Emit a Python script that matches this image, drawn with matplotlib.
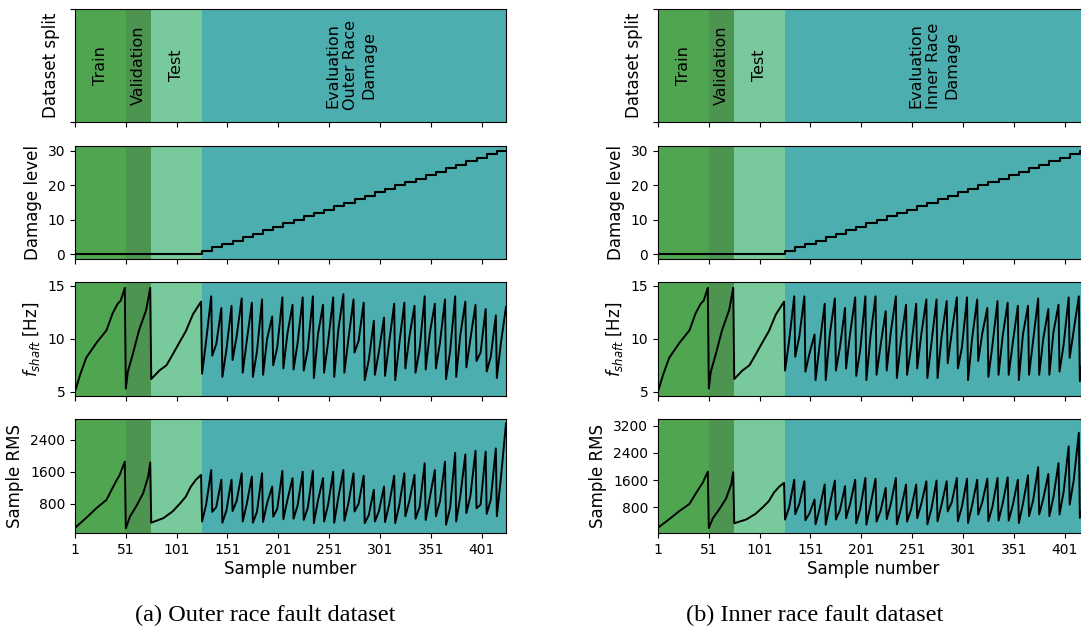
import numpy as np
import matplotlib
matplotlib.use('Agg')
import matplotlib.pyplot as plt

# region boundaries (sample numbers)
split_edges = [1, 51, 76, 126, 425]
split_names = ['Train', 'Validation', 'Test']
split_colors = ['#50a650', '#4e9451', '#78c99b', '#4caeae']
xticks = [1, 51, 101, 151, 201, 251, 301, 351, 401]

# shared train / validation / test part (samples 1..125)
pre_x = [1, 6, 12, 22, 32, 38, 43, 46, 50,
         51, 53, 58, 64, 71, 75,
         76, 84, 91, 97, 104, 110, 117, 125]
pre_fshaft = [5.0, 6.6, 8.2, 9.6, 10.8, 12.4, 13.3, 13.6, 14.8,
              5.3, 6.9, 8.6, 10.8, 12.7, 14.8,
              6.2, 7.0, 7.5, 8.5, 9.7, 10.7, 12.3, 13.5]
pre_rms_x = [1, 12, 22, 32, 37, 42, 45, 50,
             51, 55, 61, 68, 73, 75,
             76, 88, 97, 104, 110, 115, 120, 125]
pre_rms = [200, 450, 690, 900, 1150, 1390, 1520, 1850,
           190, 480, 730, 1060, 1480, 1830,
           330, 445, 610, 800, 980, 1230, 1400, 1520]

# evaluation: one speed sweep per damage level (10 samples each)
damage_levels = list(range(1, 31))

# outer race dataset, per sweep: start, middle, end values
outer_f_lo = [6.7, 8.4, 6.4, 8.0, 6.8, 6.4, 6.6, 7.5, 7.2, 7.1, 7.0, 6.3, 6.8, 6.4, 6.8,
              8.7, 6.1, 6.6, 6.5, 6.1, 7.2, 6.8, 7.1, 7.2, 6.2, 6.4, 7.3, 7.9, 6.9, 6.3]
outer_f_mid = [9.8, 9.5, 9.0, 10.2, 9.8, 8.8, 10.0, 9.2, 10.5, 9.6, 9.0, 10.4, 9.7, 10.8, 10.0,
               9.8, 8.0, 8.8, 9.6, 9.5, 10.2, 9.0, 10.5, 9.6, 8.8, 10.3, 10.0, 8.7, 8.3, 9.6]
outer_f_hi = [14.0, 12.9, 13.1, 13.8, 13.4, 13.7, 12.1, 13.9, 13.2, 13.9, 14.0, 13.2, 13.9, 14.2, 13.7,
              13.4, 11.7, 12.0, 13.3, 13.4, 13.1, 14.0, 13.3, 13.7, 14.0, 13.5, 13.2, 12.8, 12.2, 13.0]
outer_rms_lo = [360, 600, 330, 620, 360, 330, 350, 480, 420, 430, 400, 320, 360, 330, 380,
                610, 320, 360, 345, 320, 490, 430, 400, 490, 280, 360, 570, 690, 550, 490]
outer_rms_mid = [780, 720, 640, 870, 800, 600, 820, 680, 900, 760, 700, 880, 780, 950, 820,
                 800, 520, 620, 780, 760, 880, 720, 950, 860, 700, 980, 1000, 780, 900, 1450]
outer_rms_hi = [1640, 1400, 1400, 1560, 1480, 1560, 1230, 1620, 1440, 1600, 1620, 1440, 1600, 1640, 1560,
                1500, 1150, 1230, 1500, 1560, 1520, 1810, 1640, 1850, 2070, 2030, 2120, 2100, 2180, 2800]

# inner race dataset
inner_f_lo = [7.0, 8.3, 6.9, 6.1, 6.1, 7.0, 7.2, 6.5, 6.1, 6.6, 7.0, 6.3, 6.6, 7.2, 6.3,
              6.3, 7.7, 7.2, 6.1, 7.9, 6.4, 6.6, 6.6, 6.1, 6.6, 6.6, 6.6, 6.9, 8.2, 6.0]
inner_f_mid = [9.8, 10.2, 8.6, 9.4, 10.4, 9.2, 10.5, 9.0, 10.2, 9.4, 10.6, 9.8, 9.2, 10.4, 9.6,
               10.2, 10.6, 9.2, 10.0, 10.5, 9.4, 10.2, 9.6, 10.4, 9.8, 10.0, 10.6, 9.4, 10.8, 9.0]
inner_f_hi = [14.0, 14.0, 10.4, 13.3, 13.8, 12.9, 13.9, 14.0, 14.0, 12.6, 14.0, 13.2, 13.3, 13.7, 13.7,
              13.55, 13.9, 13.9, 13.7, 12.9, 13.55, 13.4, 13.1, 13.1, 13.8, 12.8, 13.2, 13.9, 14.0, 12.5]
inner_rms_lo = [440, 600, 420, 300, 290, 440, 480, 330, 290, 380, 450, 300, 380, 480, 300,
                390, 680, 390, 340, 590, 390, 410, 410, 340, 540, 590, 540, 590, 880, 490]
inner_rms_mid = [800, 900, 620, 760, 880, 720, 900, 760, 860, 700, 900, 760, 740, 900, 760,
                 880, 950, 820, 860, 950, 820, 900, 860, 900, 1000, 1050, 1100, 1250, 1600, 900]
inner_rms_hi = [1610, 1565, 1030, 1470, 1585, 1420, 1610, 1660, 1640, 1370, 1660, 1470, 1470, 1565, 1585,
                1565, 1660, 1640, 1610, 1640, 1660, 1680, 1610, 1740, 1980, 1780, 2100, 2590, 2990, 2200]

datasets = [
    ('Outer', outer_f_lo, outer_f_mid, outer_f_hi, outer_rms_lo, outer_rms_mid, outer_rms_hi,
     (74, 2912), [800, 1600, 2400], '(a) Outer race fault dataset'),
    ('Inner', inner_f_lo, inner_f_mid, inner_f_hi, inner_rms_lo, inner_rms_mid, inner_rms_hi,
     (45, 3396), [800, 1600, 2400, 3200], '(b) Inner race fault dataset'),
]


def sweep_line(x0, y0, lo, mid, hi):
    # join the pre-evaluation part with the per-sweep vertices
    xs = list(x0)
    ys = list(y0)
    for k in range(len(lo)):
        t0 = 126 + 10 * k
        xs += [t0, t0 + 4, t0 + 9]
        ys += [lo[k], mid[k], hi[k]]
    return xs, ys


def shade(ax):
    for i in range(4):
        ax.axvspan(split_edges[i], split_edges[i + 1], color=split_colors[i], lw=0)


fig = plt.figure(figsize=(10.81, 6.31), dpi=100)
col_left = [75 / 1081, 658 / 1081]
width = 431 / 1081
rows_px = [(9, 122), (146, 259), (282, 396), (419, 533)]
cap_x = [265, 815]

for c, (name, f_lo, f_mid, f_hi, r_lo, r_mid, r_hi, rms_lim, rms_ticks, caption) in enumerate(datasets):
    axes = []
    for top, bot in rows_px:
        ax = fig.add_axes([col_left[c], 1 - bot / 631, width, (bot - top) / 631])
        axes.append(ax)

    for ax in axes:
        shade(ax)
        ax.set_xlim(1, 425)
        ax.set_xticks(xticks)
        ax.tick_params(labelsize=10)
    for ax in axes[:3]:
        ax.set_xticklabels([])

    # dataset split
    ax = axes[0]
    ax.set_ylim(0, 1)
    ax.set_yticks([0, 1])
    ax.set_yticklabels([])
    ax.set_ylabel('Dataset split', fontsize=12)
    centers = [26, 63.5, 101]
    for xc, lab in zip(centers, split_names):
        ax.text(xc, 0.5, lab, rotation=90, ha='center', va='center', fontsize=11.5)
    ax.text(272, 0.5, 'Evaluation\n%s Race\nDamage' % name, rotation=90, ha='center',
            va='center', multialignment='center', fontsize=11.5, linespacing=1.25)

    # damage level
    ax = axes[1]
    dx = [1] + [126 + 10 * k for k in range(len(damage_levels))] + [425]
    dy = [0] + damage_levels + [damage_levels[-1]]
    ax.plot(dx, dy, color='black', lw=1.5, drawstyle='steps-post')
    ax.set_ylim(-1.35, 31.45)
    ax.set_yticks([0, 10, 20, 30])
    ax.set_ylabel('Damage level', fontsize=12)

    # shaft frequency
    ax = axes[2]
    xs, ys = sweep_line(pre_x, pre_fshaft, f_lo, f_mid, f_hi)
    ax.plot(xs, ys, color='black', lw=1.4)
    ax.set_ylim(4.6, 15.35)
    ax.set_yticks([5, 10, 15])
    ax.set_ylabel('$f_{shaft}$ [Hz]', fontsize=12)

    # sample RMS
    ax = axes[3]
    xs, ys = sweep_line(pre_rms_x, pre_rms, r_lo, r_mid, r_hi)
    ax.plot(xs, ys, color='black', lw=1.4)
    ax.set_ylim(*rms_lim)
    ax.set_yticks(rms_ticks)
    ax.set_ylabel('Sample RMS', fontsize=12)
    ax.set_xlabel('Sample number', fontsize=12, labelpad=2)

    fig.text(cap_x[c] / 1081, 1 - 615 / 631, caption, ha='center', va='center',
             family='Liberation Serif', fontsize=17.5)

fig.savefig('out.png', dpi=100)
